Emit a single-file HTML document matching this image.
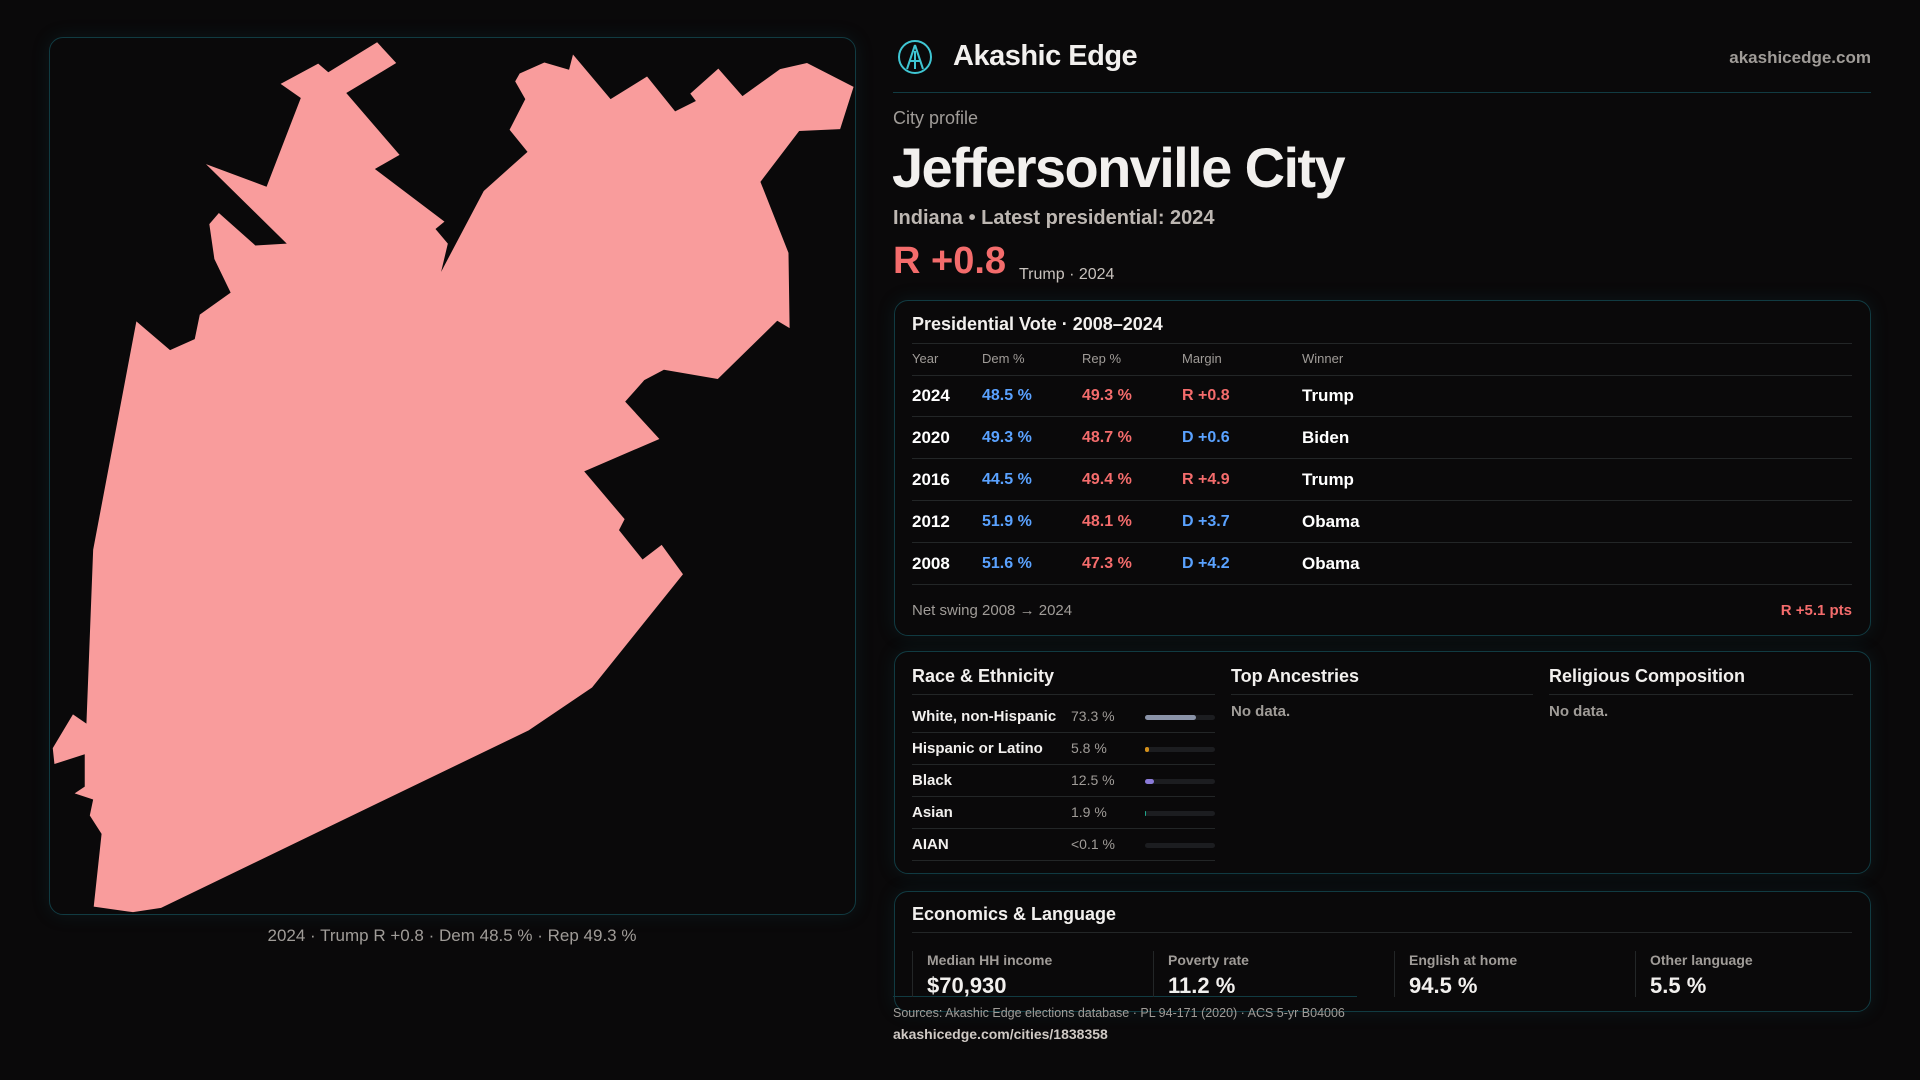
<!DOCTYPE html>
<html><head><meta charset="utf-8"><style>
*{margin:0;padding:0;box-sizing:border-box}
body{width:1920px;height:1080px;background:#0a090a;font-family:"Liberation Sans",sans-serif;color:#f2f0ee;position:relative;overflow:hidden}
.a{position:absolute;white-space:nowrap}
.panel{position:absolute;border:1px solid #113b42;border-radius:14px;box-shadow:0 0 18px rgba(20,90,100,0.18)}
.hl{position:absolute;height:1px;background:#232627}
.g{color:#a09c98}
.b{font-weight:bold}
</style></head><body>
<div class="panel" style="left:49px;top:37px;width:807px;height:878px;"></div>
<svg class="a" style="left:0;top:0" width="880" height="960">
<g transform="scale(0.5612,0.6122)"><polygon fill="#f99c9c" points="672,69 706,103 617,152 712,253 668,276 792,362 776,374 798,398 786,444 862,312 940,248 908,212 936,162 918,133 926,120 970,102 1014,114 1021,89 1088,162 1153,125 1203,182 1240,165 1230,153 1280,112 1323,157 1390,113 1438,103 1521,142 1497,211 1424,214 1355,297 1405,413 1407,536 1385,524 1279,619 1183,604 1148,621 1114,656 1175,717 1041,770 1113,848 1103,866 1145,914 1179,890 1217,938 1055,1123 942,1193 287,1483 237,1490 167,1481 181,1362 160,1332 166,1306 133,1296 151,1285 151,1232 97,1248 94,1222 130,1167 154,1182 166,898 243,525 303,572 347,554 356,514 411,478 382,423 373,366 390,348 455,401 511,398 367,268 475,305 536,160 500,137 567,104 585,118"/></g></svg>
<div class="a g" style="left:0;width:904px;text-align:center;top:926px;font-size:17px;">2024 · Trump R +0.8 · Dem 48.5 % · Rep 49.3 %</div>

<svg class="a" style="left:897px;top:39px" width="36" height="36" viewBox="0 0 36 36"><circle cx="18" cy="18" r="16" fill="none" stroke="#3fc6d3" stroke-width="2"/><path d="M18 6 L10 30 M18 6 L26 30 M12 22 L24 22 M18 12 L18 30" stroke="#3fc6d3" stroke-width="2" fill="none"/></svg>
<div class="a b" style="left:953px;top:40px;font-size:29px;letter-spacing:-0.5px">Akashic Edge</div>
<div class="a b g" style="right:49px;top:48px;font-size:17px;">akashicedge.com</div>
<div class="a" style="left:893px;top:92px;width:978px;height:1px;background:#113b42"></div>
<div class="a g" style="left:893px;top:108px;font-size:18px;">City profile</div>
<div class="a b" style="left:892px;top:135px;font-size:56px;letter-spacing:-1.6px">Jeffersonville City</div>
<div class="a b" style="left:893px;top:207px;font-size:20px;color:#bdb7b2">Indiana • Latest presidential: 2024</div>
<div class="a b" style="left:893px;top:240px;font-size:38px;color:#f46c6c">R +0.8</div>
<div class="a" style="left:1019px;top:266px;font-size:16px;color:#c8c2bd">Trump · 2024</div>

<div class="panel" style="left:894px;top:300px;width:977px;height:336px;"></div>
<div class="a b" style="left:912px;top:314px;font-size:18px">Presidential Vote · 2008–2024</div>
<div class="hl" style="left:912px;top:343px;width:940px"></div>

<div class="panel" style="left:894px;top:651px;width:977px;height:223px;"></div>
<div class="a b" style="left:912px;top:666px;font-size:18px">Race &amp; Ethnicity</div>
<div class="a b" style="left:1231px;top:666px;font-size:18px">Top Ancestries</div>
<div class="a b" style="left:1549px;top:666px;font-size:18px">Religious Composition</div>
<div class="hl" style="left:912px;top:694px;width:303px"></div>
<div class="hl" style="left:1231px;top:694px;width:302px"></div>
<div class="hl" style="left:1549px;top:694px;width:304px"></div>
<div class="a b g" style="left:1231px;top:703px;font-size:15px">No data.</div>
<div class="a b g" style="left:1549px;top:703px;font-size:15px">No data.</div>

<div class="panel" style="left:894px;top:891px;width:977px;height:121px;"></div>
<div class="a b" style="left:912px;top:904px;font-size:18px">Economics &amp; Language</div>
<div class="hl" style="left:912px;top:932px;width:940px"></div>
<div class="a" style="left:893px;top:996px;width:464px;height:1px;background:#113b42"></div>
<div class="a g" style="left:893px;top:1006px;font-size:12.5px">Sources: Akashic Edge elections database · PL 94-171 (2020) · ACS 5-yr B04006</div>
<div class="a b" style="left:893px;top:1026px;font-size:14px;color:#cfc9c4">akashicedge.com/cities/1838358</div>

<script>
const years=[2024,2020,2016,2012,2008];
const demPct=[48.5,49.3,44.5,51.9,51.6];
const repPct=[49.3,48.7,49.4,48.1,47.3];
const margins=[0.8,-0.6,4.9,-3.7,-4.2];
const winners=["Trump","Biden","Trump","Obama","Obama"];
const netSwing=[5.1];
const raceLabels=["White, non-Hispanic","Hispanic or Latino","Black","Asian","AIAN"];
const raceVals=[73.3,5.8,12.5,1.9,0.05];
const raceText=["73.3 %","5.8 %","12.5 %","1.9 %","<0.1 %"];
const econLabels=["Median HH income","Poverty rate","English at home","Other language"];
const econVals=["$70,930","11.2 %","94.5 %","5.5 %"];
const BLUE="#5aa2ff",RED="#f46c6c";
function mk(parent,cls,style,text){const d=document.createElement('div');d.className=cls;d.style.cssText=style;if(text!=null)d.textContent=text;parent.appendChild(d);return d;}
const body=document.body;
const hx=[912,982,1082,1182,1302],hn=["Year","Dem %","Rep %","Margin","Winner"];
hn.forEach((t,i)=>{const e=mk(body,'a g','left:'+hx[i]+'px;top:351px;font-size:13px',t);

});
mk(body,'hl','left:912px;top:375px;width:940px');
years.forEach((y,i)=>{
 const top=386+i*42;
 const m=margins[i];
 const mt=(m>0?"R +":"D +")+Math.abs(m).toFixed(1);
 const vals=[String(y),demPct[i].toFixed(1)+" %",repPct[i].toFixed(1)+" %",mt,winners[i]];
 const cols=["#fff",BLUE,RED,m>0?RED:BLUE,"#fff"];
 vals.forEach((v,j)=>{const e=mk(body,'a b','left:'+hx[j]+'px;top:'+(top+(j==0||j==4?0:1))+'px;font-size:'+(j==0||j==4?17:16)+'px;color:'+cols[j],v);
 
 });
 mk(body,'hl','left:912px;top:'+(top+30)+'px;width:940px');
});
let e=mk(body,'a g','left:912px;top:602px;font-size:15px','Net swing 2008 → 2024');


e=mk(body,'a b','right:68px;top:602px;font-size:15px;color:'+RED,(netSwing[0]>0?'R +':'D +')+Math.abs(netSwing[0]).toFixed(1)+' pts');


const rc=["#8a93a8","#d4901a","#8a7ad8","#1fa58a","#555"];
raceLabels.forEach((l,i)=>{
 const top=708+i*32;
 let a=mk(body,'a b','left:912px;top:'+top+'px;font-size:15px',l);
 
 
 a=mk(body,'a g','left:1071px;top:'+top+'px;font-size:14px',raceText[i]);
 
 
 const tr=mk(body,'a','left:1145px;top:'+(top+7)+'px;width:70px;height:5px;border-radius:3px;background:#1c1d20');
 
 
 const f=mk(tr,'a','left:0;top:0;height:5px;border-radius:3px;background:'+rc[i]+';width:'+Math.max(raceVals[i]/100*70,raceVals[i]>1?1:0)+'px');
 
 
 mk(body,'hl','left:912px;top:'+(top+24)+'px;width:303px');
});
econLabels.forEach((l,i)=>{
 const x=912+i*241;
 mk(body,'a','left:'+x+'px;top:951px;width:1px;height:46px;background:#232627');
 let a=mk(body,'a b g','left:'+(x+15)+'px;top:952px;font-size:14px',l);
 
 
 a=mk(body,'a b','left:'+(x+15)+'px;top:973px;font-size:22px',econVals[i]);
 
 
});
</script>
</body></html>
